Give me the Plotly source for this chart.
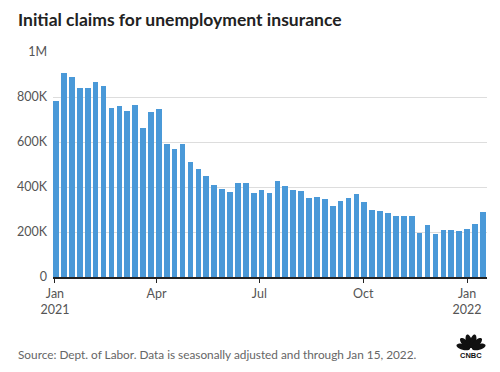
import numpy as np
import pandas as pd
import plotly.graph_objects as go

# Weekly initial claims, week ending Jan 2 2021 through Jan 15 2022
week_start = "2021-01-02"
claims = [783000, 906000, 890000, 840000, 840000, 867000, 850000, 751000, 761000, 739000,
          766000, 662000, 735000, 747000, 589000, 570000, 592000, 509000, 481000, 449000,
          409000, 392000, 376000, 420000, 420000, 372000, 388000, 372000, 428000, 403000,
          388000, 381000, 352000, 357000, 348000, 317000, 336000, 352000, 369000, 332000,
          299000, 292000, 284000, 272000, 272000, 272000, 197000, 232000, 192000, 207000,
          207000, 203000, 212000, 237000, 289000]
dates = pd.date_range(week_start, periods=len(claims), freq="7D")

tick_dates = ["2021-01-01", "2021-04-01", "2021-07-01", "2021-10-01", "2022-01-01"]
tick_labels = ["Jan<br>2021", "Apr", "Jul", "Oct", "Jan<br>2022"]
y_ticks = [0, 200000, 400000, 600000, 800000, 1000000]
y_labels = ["0", "200K", "400K", "600K", "800K", "1M"]

title = "Initial claims for unemployment insurance"
source = "Source: Dept. of Labor. Data is seasonally adjusted and through Jan 15, 2022."

# page body has an 8px margin; work in viewport coordinates and shift
OFF = 8
W, H = 500 - 2 * OFF, 372 - 2 * OFF
PL, PR, PT, PB = 53, 487, 52, 277          # plot area in viewport px
L, R, T = PL - OFF, W - (PR - OFF), PT - OFF
B = H - (PB - OFF)
pw, ph = W - L - R, H - T - B

def px2paper(x, y):
    # x, y in viewport px
    return (x - PL) / pw, (PB - y) / ph

fig = go.Figure()
fig.add_trace(go.Bar(
    x=dates, y=claims,
    width=5.0 * 86400000,
    marker=dict(color="#4a99d8", line=dict(width=0)),
    hoverinfo="x+y",
))

# CNBC peacock approximation
shapes = []
pivot = (471, 349)
for ang in [-75, -45, -15, 15, 45, 75]:
    a = np.deg2rad(ang)
    cx = pivot[0] + 8 * np.sin(a)
    cy = pivot[1] - 8 * np.cos(a)
    t = np.linspace(0, 2 * np.pi, 24, endpoint=False)
    ex = 3.0 * np.cos(t)
    ey = 7.0 * np.sin(t)
    xs = cx + ex * np.cos(a) - ey * np.sin(a)
    ys = cy + ex * np.sin(a) + ey * np.cos(a)
    pts = [px2paper(x, y) for x, y in zip(xs, ys)]
    path = "M " + " L ".join(f"{p[0]:.5f},{p[1]:.5f}" for p in pts) + " Z"
    shapes.append(dict(type="path", xref="paper", yref="paper", path=path,
                       fillcolor="#111111", line=dict(width=0)))

lx, ly = px2paper(471, 355)
sx, sy = px2paper(16, 354)
tx, ty = px2paper(16, 20)

fig.update_layout(
    width=W, height=H,
    margin=dict(l=L, r=R, t=T, b=B),
    paper_bgcolor="white", plot_bgcolor="white",
    showlegend=False,
    bargap=0,
    font=dict(family="Lato", color="#555555", size=12),
    xaxis=dict(
        type="date",
        range=["2020-12-30 06:00", "2022-01-18 16:00"],
        tickvals=tick_dates, ticktext=tick_labels,
        ticks="outside", ticklen=4, tickcolor="#222222", tickwidth=1,
        showline=True, linecolor="#222222", linewidth=1.5,
        showgrid=False, zeroline=False,
        tickfont=dict(family="Lato", size=12.5, color="#555555"),
    ),
    yaxis=dict(
        range=[0, 1000000],
        tickvals=y_ticks, ticktext=y_labels,
        showgrid=True, gridcolor="#dddddd", gridwidth=1,
        zeroline=False, ticks="", ticklabelstandoff=5,
        tickfont=dict(family="Lato", size=12.5, color="#555555"),
    ),
    shapes=shapes,
    annotations=[
        dict(text=f"<b>{title}</b>", xref="paper", yref="paper", x=tx, y=ty,
             xanchor="left", yanchor="middle", showarrow=False,
             font=dict(family="Lato", size=17.5, color="#222222")),
        dict(text=source, xref="paper", yref="paper", x=sx, y=sy,
             xanchor="left", yanchor="middle", showarrow=False,
             font=dict(family="Lato", size=11.8, color="#666666")),
        dict(text="<b>CNBC</b>", xref="paper", yref="paper", x=lx, y=ly,
             xanchor="center", yanchor="middle", showarrow=False,
             font=dict(family="Liberation Sans", size=7.5, color="#111111")),
    ],
)

fig.write_html("out.html")
